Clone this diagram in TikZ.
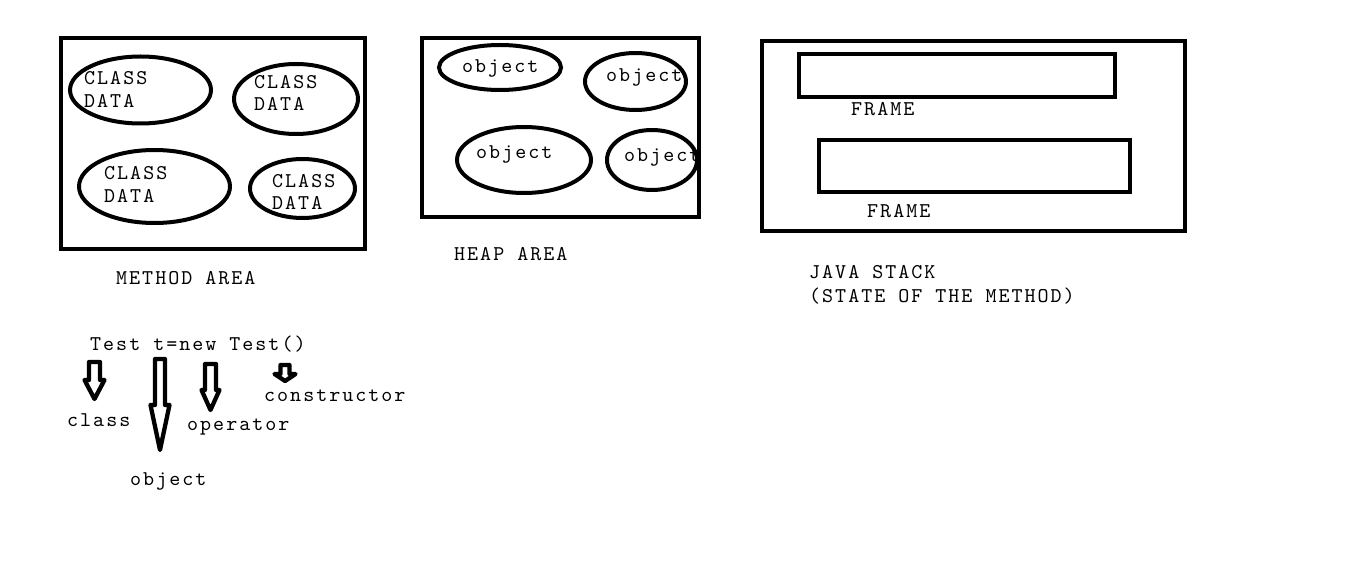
\documentclass[tikz,border=0pt]{standalone}
\usepackage{fontspec}
\setmonofont{lmmono10-regular.otf}[LetterSpace=9.5]
\usetikzlibrary{shapes.geometric}
\tikzset{
  box/.style={draw=black, line width=4pt},
  blob/.style={ellipse, draw=black, line width=4pt, inner sep=0pt},
  txt/.style={anchor=base west, inner sep=0pt, font=\ttfamily\fontsize{21}{23}\selectfont},
  barrow/.style={draw=black, line width=4.3pt, line join=round, fill=white},
}
\newcommand{\blkarrow}[6]{%
  \draw[barrow] ({#1-#3},#2) -- ({#1+#3},#2) -- ({#1+#3},#5) -- ({#1+#4},#5) -- (#1,#6)
    -- ({#1-#4},#5) -- ({#1-#3},#5) -- cycle;}
\begin{document}
\begin{tikzpicture}[x=1pt,y=-1pt]
\useasboundingbox[fill=white] (0,0) rectangle (1360,569);

% METHOD AREA
\draw[box] (61,38) rectangle (365,249);
\node[blob, minimum width=141pt, minimum height=67pt] (c1) at (140.5,90) {};
\node[blob, minimum width=124pt, minimum height=70pt] (c2) at (296,99) {};
\node[blob, minimum width=151pt, minimum height=73pt] (c3) at (154.5,186.5) {};
\node[blob, minimum width=105pt, minimum height=59pt] (c4) at (302.5,188.5) {};
\node[txt] (c1a) at (84,85) {CLASS};
\node[txt] (c1b) at (84,107.5) {DATA};
\node[txt] (c2a) at (254,88.5) {CLASS};
\node[txt] (c2b) at (254,110.5) {DATA};
\node[txt] (c3a) at (104,180) {CLASS};
\node[txt] (c3b) at (104,202.5) {DATA};
\node[txt] (c4a) at (272,187.5) {CLASS};
\node[txt] (c4b) at (272,210) {DATA};
\node[txt] (mlabel) at (116,284.5) {METHOD AREA};

% HEAP AREA
\draw[box] (422,38) rectangle (699,217);
\node[blob, minimum width=122pt, minimum height=45pt] (o1) at (500,67.5) {};
\node[blob, minimum width=101pt, minimum height=57pt] (o2) at (635.5,81.5) {};
\node[blob, minimum width=134pt, minimum height=66pt] (o3) at (524,160) {};
\node[blob, minimum width=90pt, minimum height=60pt] (o4) at (652,160) {};
\node[txt] (o1t) at (462,72.5) {object};
\node[txt] (o2t) at (606,81.5) {object};
\node[txt] (o3t) at (476,158.5) {object};
\node[txt] (o4t) at (624,161.5) {object};
\node[txt] (hlabel) at (454,261) {HEAP AREA};

% JAVA STACK
\draw[box] (762,41) rectangle (1185,231);
\draw[box] (799,54) rectangle (1115,97);
\draw[box] (819,140) rectangle (1130,192);
\node[txt] (f1) at (851,116) {FRAME};
\node[txt] (f2) at (867,218) {FRAME};
\node[txt] (j1) at (809,279) {JAVA STACK};
\node[txt] (j2) at (809,302) {(STATE OF THE METHOD)};

% Test t = new Test()
\node[txt] (code) at (90,350) {Test t=new Test()};
\blkarrow{94.5}{362}{5.5}{10}{380}{399}
\blkarrow{160}{359}{5}{9.5}{405}{450}
\blkarrow{210.5}{364}{5.5}{9}{390}{410}
\blkarrow{285}{365}{4.5}{10.5}{374}{381}
\node[txt] (lclass) at (67,426.5) {class};
\node[txt] (lobj) at (130,485) {object};
\node[txt] (lop) at (187,430) {operator};
\node[txt] (lcons) at (264,401) {constructor};
\end{tikzpicture}
\end{document}
